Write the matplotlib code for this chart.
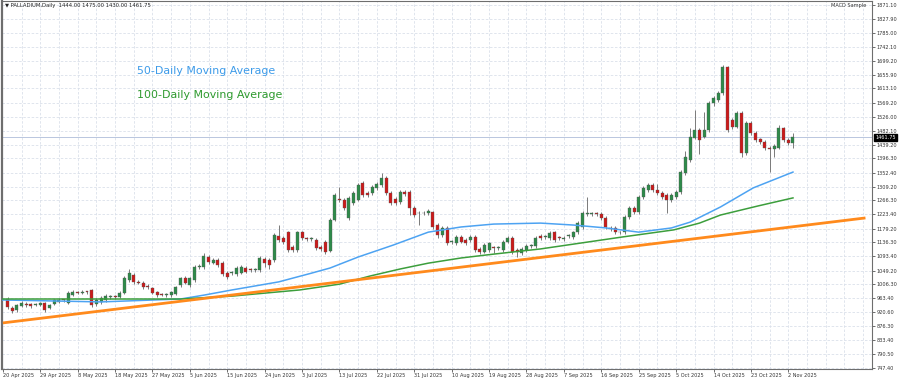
#%%
import numpy as np
import matplotlib.pyplot as plt
import matplotlib.transforms as mtransforms

#%% data (one candle per bar, Sunday..Friday bars)
opens = [961, 933, 927, 939, 946, 946, 942, 942, 949, 933,
         946, 952, 958, 949, 973, 980, 980, 983, 989, 946,
         952, 958, 967, 968, 967, 980, 1020, 1035, 1014, 1011,
         1001, 995, 983, 977, 973, 973, 977, 1004, 1026, 1004,
         1020, 1060, 1060, 1091, 1073, 1082, 1073, 1042, 1041, 1038,
         1042, 1057, 1051, 1050, 1051, 1085, 1082, 1082, 1156, 1150,
         1168, 1122, 1113, 1168, 1147, 1146, 1144, 1122, 1138, 1110,
         1206, 1268, 1268, 1212, 1258, 1268, 1320, 1289, 1289, 1305,
         1314, 1336, 1289, 1271, 1261, 1292, 1292, 1243, 1227, 1226,
         1227, 1230, 1190, 1159, 1181, 1137, 1134, 1153, 1144, 1144,
         1153, 1116, 1107, 1113, 1119, 1118, 1113, 1138, 1150, 1113,
         1103, 1113, 1125, 1125, 1156, 1153, 1150, 1168, 1150, 1147,
         1156, 1153, 1168, 1184, 1224, 1224, 1225, 1224, 1212, 1181,
         1181, 1168, 1168, 1215, 1243, 1230, 1277, 1298, 1314, 1298,
         1289, 1283, 1268, 1277, 1292, 1351, 1391, 1460, 1484, 1463,
         1484, 1568, 1577, 1599, 1679, 1515, 1494, 1537, 1413, 1506,
         1475, 1456, 1447, 1429, 1425, 1429, 1490, 1453, 1444]
closes = [936, 924, 942, 949, 942, 939, 943, 949, 927, 942,
          958, 958, 957, 980, 983, 979, 983, 982, 942, 958,
          964, 970, 968, 967, 980, 1026, 1042, 1014, 1011, 998,
          998, 980, 973, 974, 976, 983, 998, 1026, 1011, 1026,
          1060, 1063, 1094, 1076, 1082, 1066, 1038, 1029, 1042, 1057,
          1060, 1045, 1050, 1051, 1088, 1073, 1066, 1159, 1144, 1138,
          1113, 1113, 1168, 1150, 1146, 1148, 1119, 1116, 1107, 1206,
          1283, 1267, 1243, 1274, 1289, 1314, 1283, 1283, 1308, 1317,
          1336, 1289, 1258, 1258, 1292, 1286, 1243, 1221, 1226, 1228,
          1234, 1184, 1159, 1181, 1134, 1138, 1153, 1138, 1134, 1153,
          1113, 1107, 1128, 1134, 1118, 1119, 1138, 1150, 1107, 1106,
          1116, 1125, 1126, 1150, 1150, 1154, 1165, 1144, 1149, 1150,
          1157, 1168, 1196, 1227, 1227, 1225, 1224, 1212, 1184, 1178,
          1168, 1167, 1215, 1243, 1230, 1277, 1305, 1314, 1298, 1289,
          1277, 1268, 1283, 1292, 1354, 1401, 1463, 1484, 1453, 1484,
          1568, 1583, 1599, 1679, 1484, 1494, 1537, 1413, 1506, 1475,
          1453, 1447, 1429, 1425, 1435, 1490, 1453, 1444, 1461.75]
highs = [966, 938, 946, 954, 951, 950, 948, 953, 953, 947,
         962, 963, 962, 985, 988, 986, 988, 987, 993, 963,
         969, 975, 973, 972, 985, 1031, 1054, 1040, 1020, 1016,
         1006, 999, 987, 981, 980, 987, 1002, 1030, 1031, 1030,
         1065, 1069, 1103, 1096, 1087, 1087, 1078, 1047, 1047, 1062,
         1065, 1062, 1056, 1056, 1093, 1090, 1087, 1164, 1190, 1155,
         1173, 1127, 1173, 1173, 1152, 1153, 1149, 1127, 1143, 1211,
         1288, 1308, 1273, 1279, 1294, 1319, 1325, 1294, 1313, 1322,
         1351, 1341, 1294, 1276, 1297, 1297, 1297, 1248, 1232, 1233,
         1239, 1235, 1195, 1186, 1186, 1143, 1158, 1158, 1149, 1158,
         1158, 1121, 1133, 1139, 1124, 1124, 1143, 1155, 1155, 1118,
         1121, 1130, 1131, 1155, 1161, 1159, 1170, 1173, 1155, 1155,
         1162, 1173, 1201, 1232, 1277, 1230, 1230, 1229, 1217, 1186,
         1186, 1173, 1220, 1248, 1248, 1282, 1310, 1320, 1319, 1316,
         1294, 1288, 1288, 1297, 1359, 1420, 1490, 1546, 1489, 1540,
         1573, 1588, 1604, 1684, 1682, 1520, 1542, 1542, 1511, 1511,
         1480, 1461, 1452, 1434, 1440, 1500, 1495, 1458, 1475]
lows = [930, 918, 922, 935, 937, 934, 938, 938, 921, 929,
        942, 948, 952, 945, 969, 975, 976, 977, 936, 940,
        947, 953, 962, 962, 963, 976, 1015, 1009, 1006, 993,
        993, 975, 968, 969, 968, 968, 972, 999, 1006, 999,
        1015, 1055, 1055, 1070, 1068, 1060, 1032, 1024, 1036, 1033,
        1037, 1040, 1045, 1045, 1046, 1060, 1055, 1077, 1139, 1132,
        1105, 1107, 1108, 1145, 1141, 1141, 1113, 1110, 1100, 1105,
        1201, 1262, 1237, 1205, 1253, 1263, 1277, 1278, 1284, 1300,
        1309, 1283, 1252, 1252, 1256, 1281, 1220, 1215, 1190, 1221,
        1222, 1178, 1150, 1154, 1128, 1132, 1129, 1133, 1128, 1139,
        1107, 1101, 1102, 1108, 1103, 1113, 1108, 1133, 1101, 1092,
        1098, 1108, 1120, 1120, 1145, 1148, 1145, 1139, 1144, 1142,
        1151, 1148, 1163, 1179, 1219, 1219, 1219, 1207, 1178, 1172,
        1162, 1162, 1163, 1210, 1225, 1225, 1272, 1293, 1293, 1284,
        1271, 1227, 1262, 1271, 1287, 1346, 1386, 1455, 1410, 1458,
        1479, 1560, 1572, 1594, 1478, 1488, 1489, 1400, 1408, 1470,
        1447, 1441, 1423, 1354, 1400, 1424, 1448, 1438, 1430]

# moving averages, read at a few bars
ma50_bar = [-1, 20, 37, 42, 48, 58, 65, 69, 75, 82.5, 90, 97, 104, 114, 121, 128, 135, 142, 146, 152.5, 159.5, 168]
ma50_val = [958, 952, 961, 973, 989, 1014, 1041, 1057, 1091, 1128, 1168, 1184, 1193, 1196, 1190, 1181, 1168, 1181, 1199, 1246, 1305, 1354]
ma100_bar = [-1, 20, 37, 48, 62.5, 71, 77.5, 84, 90, 97, 104, 114, 122.5, 131.5, 142.5, 148, 152.5, 160.5, 168]
ma100_val = [961, 961, 961, 970, 989, 1007, 1032, 1054, 1072, 1088, 1100, 1116, 1134, 1153, 1175, 1196, 1221, 1249, 1274]

# hand-drawn trend line (two anchor points)
trend_bar = [-1, 183.5]
trend_val = [887, 1212]

last_price = 1461.75

price_ticks = [747.40, 790.50, 833.40, 876.30, 920.60, 963.40, 1006.30, 1049.20, 1093.40,
               1136.30, 1179.20, 1223.40, 1266.30, 1309.20, 1352.40, 1396.30, 1439.20,
               1482.10, 1526.00, 1569.20, 1613.10, 1655.90, 1699.20, 1742.10, 1785.00,
               1827.90, 1871.10]
date_labels = ['20 Apr 2025', '29 Apr 2025', '8 May 2025', '18 May 2025', '27 May 2025',
               '5 Jun 2025', '15 Jun 2025', '24 Jun 2025', '3 Jul 2025', '13 Jul 2025',
               '22 Jul 2025', '31 Jul 2025', '10 Aug 2025', '19 Aug 2025', '28 Aug 2025',
               '7 Sep 2025', '16 Sep 2025', '25 Sep 2025', '5 Oct 2025', '14 Oct 2025',
               '23 Oct 2025', '2 Nov 2025']

#%% figure / axes
fig = plt.figure(figsize=(9, 3.78), dpi=100)
ax = fig.add_axes([2/900, 9/378, 870/900, 368/378])
ax.set_xlim(-1.18, 184.9)
ax.set_ylim(744.3, 1883.6)

# dashed grid
for gx in np.arange(3, 185, 4):
    ax.axvline(gx, color='#dbe0ea', lw=0.6, ls=(0, (3, 2)), zorder=0)
for gy in price_ticks:
    ax.axhline(gy, color='#dbe0ea', lw=0.6, ls=(0, (3, 2)), zorder=0)

# current price line
ax.axhline(last_price, color='#b9c6de', lw=0.7, zorder=1)

# candles
o = np.array(opens, dtype=float)
c = np.array(closes, dtype=float)
h = np.array(highs, dtype=float)
l = np.array(lows, dtype=float)
idx = np.arange(len(o))
up = c >= o
col = np.where(up, '#2e8b4a', '#cc1a1a')
ax.vlines(idx, l, h, color='#7a7a7a', lw=0.7, zorder=2)
body_lo = np.minimum(o, c)
body_h = np.maximum(np.abs(c - o), 2.5)
ax.bar(idx, body_h, bottom=body_lo, width=0.64, color=col, edgecolor='#555555', lw=0.25, zorder=3)

# moving averages + trend line
ax.plot(ma50_bar, ma50_val, color='#4da3f2', lw=1.1, zorder=4)
ax.plot(ma100_bar, ma100_val, color='#3c9e3c', lw=1.1, zorder=4)
ax.plot(trend_bar, trend_val, color='#ff8a1c', lw=2.0, solid_capstyle='butt', zorder=4)

# legend-like labels
ax.text(0.155, 0.81, '50-Daily Moving Average', transform=ax.transAxes, color='#3d9be9',
        fontsize=7.9, va='center')
ax.text(0.155, 0.745, '100-Daily Moving Average', transform=ax.transAxes, color='#2e9a2e',
        fontsize=7.9, va='center')

# axes styling
for s in ax.spines.values():
    s.set_color('#6e6e6e')
    s.set_linewidth(0.8)
ax.spines['left'].set_linewidth(1.6)
ax.yaxis.tick_right()
ax.set_yticks(price_ticks)
ax.set_yticklabels(['%.2f' % v for v in price_ticks])
ax.set_xticks(np.arange(len(date_labels)) * 8 - 1)
ax.set_xticklabels(date_labels)
for lbl in ax.get_xticklabels():
    lbl.set_ha('left')
ax.tick_params(axis='y', labelsize=3.6, length=2, width=0.5, pad=1.5, colors='#333333')
ax.tick_params(axis='x', labelsize=3.6, length=2, width=0.5, pad=1, colors='#333333')

# last price box on the scale
trans = mtransforms.blended_transform_factory(ax.transAxes, ax.transData)
ax.text(1.004, last_price, '%.2f' % last_price, transform=trans, fontsize=3.6, color='white',
        va='center', ha='left', bbox=dict(boxstyle='square,pad=0.25', fc='black', ec='black'))

# header texts
fig.text(5/900, 1 - 5/378, '\u25bc PALLADIUM,Daily  1444.00 1475.00 1430.00 1461.75',
         fontsize=3.8, color='#222222', va='center', ha='left')
fig.text(866/900, 1 - 5/378, 'MACD Sample', fontsize=3.6, color='#333333', va='center', ha='right')

fig.savefig('out.png', dpi=100)
